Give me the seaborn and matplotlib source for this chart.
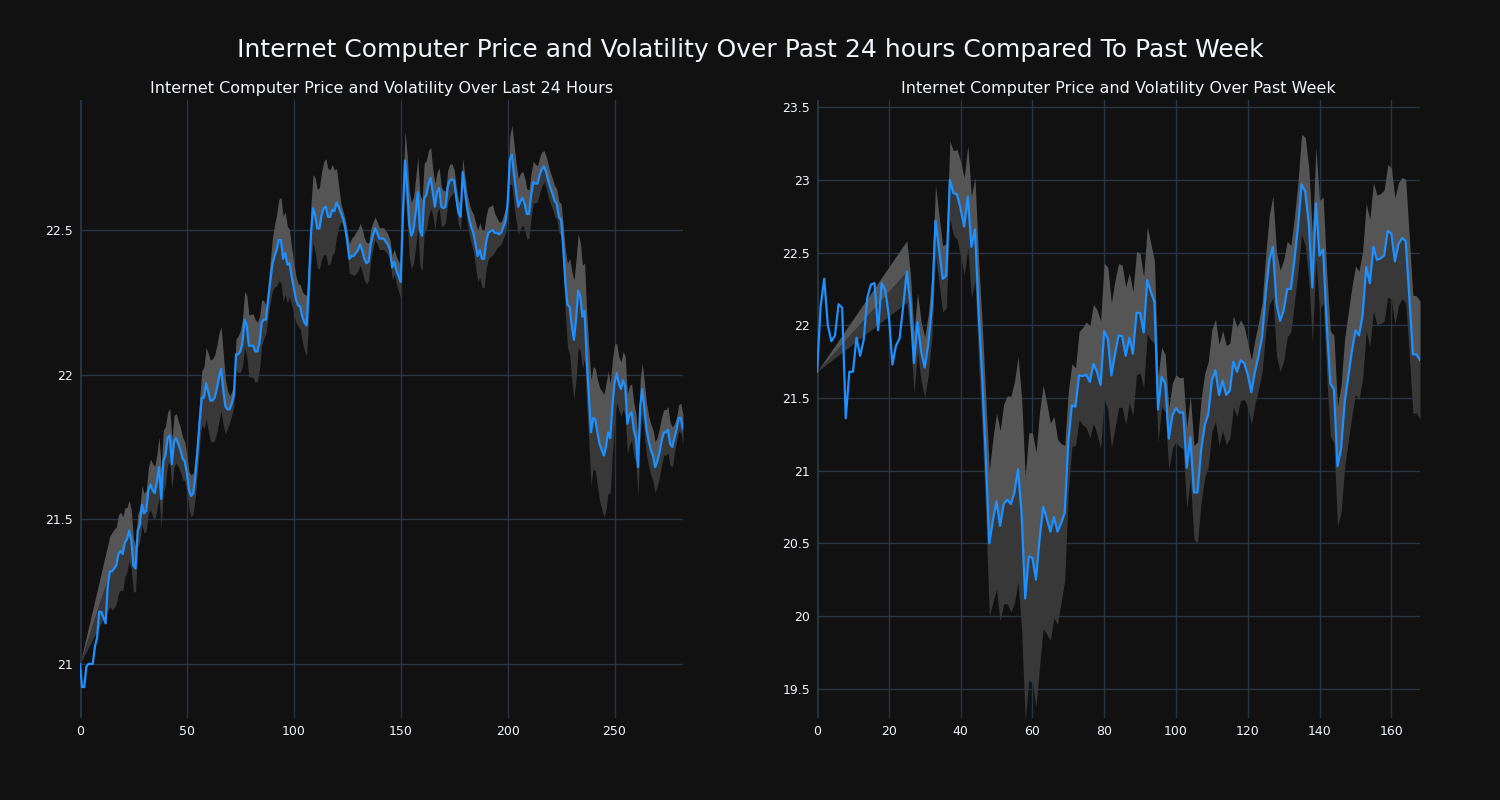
import numpy as np
import pandas as pd
import seaborn as sns
import matplotlib.pyplot as plt

# price over last 24 hours (5 min steps)
day_price = [
    21.00, 20.92, 20.92, 20.99, 21.00, 21.00, 21.00, 21.06, 21.09, 21.18,
    21.18, 21.16, 21.14, 21.27, 21.32, 21.32, 21.33, 21.34, 21.38, 21.39,
    21.38, 21.42, 21.43, 21.46, 21.43, 21.34, 21.33, 21.46, 21.48, 21.55,
    21.52, 21.53, 21.60, 21.62, 21.60, 21.59, 21.63, 21.68, 21.57, 21.70,
    21.72, 21.78, 21.79, 21.69, 21.77, 21.78, 21.76, 21.74, 21.71, 21.70,
    21.66, 21.60, 21.58, 21.59, 21.65, 21.74, 21.84, 21.92, 21.92, 21.97,
    21.94, 21.91, 21.91, 21.92, 21.95, 21.99, 22.02, 21.95, 21.89, 21.88,
    21.88, 21.90, 21.93, 22.07, 22.07, 22.08, 22.11, 22.19, 22.17, 22.10,
    22.10, 22.10, 22.08, 22.08, 22.11, 22.18, 22.19, 22.19, 22.26, 22.32,
    22.38, 22.41, 22.43, 22.465, 22.465, 22.40, 22.42, 22.38, 22.385, 22.34,
    22.30, 22.26, 22.24, 22.235, 22.20, 22.18, 22.17, 22.30, 22.48, 22.575,
    22.55, 22.505, 22.505, 22.55, 22.575, 22.58, 22.545, 22.545, 22.57, 22.565,
    22.595, 22.58, 22.56, 22.54, 22.51, 22.46, 22.40, 22.41, 22.41, 22.42,
    22.43, 22.45, 22.43, 22.40, 22.385, 22.39, 22.45, 22.48, 22.505, 22.49,
    22.47, 22.47, 22.47, 22.46, 22.45, 22.43, 22.37, 22.39, 22.36, 22.34,
    22.32, 22.55, 22.74, 22.65, 22.52, 22.48, 22.50, 22.56, 22.63, 22.50,
    22.48, 22.61, 22.62, 22.66, 22.68, 22.63, 22.58, 22.63, 22.645, 22.58,
    22.575, 22.58, 22.65, 22.67, 22.675, 22.67, 22.61, 22.56, 22.545, 22.70,
    22.64, 22.58, 22.54, 22.51, 22.49, 22.45, 22.41, 22.43, 22.40, 22.40,
    22.46, 22.49, 22.495, 22.50, 22.49, 22.49, 22.485, 22.49, 22.51, 22.53,
    22.59, 22.74, 22.76, 22.69, 22.63, 22.58, 22.60, 22.61, 22.59, 22.555,
    22.555, 22.62, 22.665, 22.66, 22.66, 22.69, 22.71, 22.72, 22.70, 22.67,
    22.645, 22.625, 22.60, 22.59, 22.545, 22.535, 22.44, 22.32, 22.24, 22.235,
    22.17, 22.12, 22.19, 22.29, 22.27, 22.20, 22.22, 22.05, 21.93, 21.80,
    21.85, 21.845, 21.80, 21.76, 21.74, 21.72, 21.75, 21.80, 21.78, 21.89,
    21.97, 22.005, 21.97, 21.95, 21.98, 21.96, 21.83, 21.86, 21.87, 21.81,
    21.78, 21.68, 21.89, 21.95, 21.88, 21.81, 21.77, 21.74, 21.72, 21.68,
    21.70, 21.73, 21.77, 21.80, 21.80, 21.81, 21.76, 21.75, 21.78, 21.81,
    21.85, 21.85, 21.81,
]

# price over past week (hourly)
week_price = [
    21.68, 22.13, 22.32, 22.00, 21.89, 21.93, 22.145, 22.12, 21.36, 21.68,
    21.68, 21.915, 21.79, 21.90, 22.19, 22.28, 22.29, 21.965, 22.29, 22.24,
    22.07, 21.73, 21.86, 21.91, 22.13, 22.37, 22.15, 21.74, 22.02, 21.82,
    21.71, 21.87, 22.13, 22.72, 22.52, 22.32, 22.34, 23.00, 22.91, 22.90,
    22.80, 22.68, 22.885, 22.54, 22.66, 22.10, 21.65, 21.10, 20.50, 20.66,
    20.79, 20.62, 20.77, 20.80, 20.77, 20.85, 21.01, 20.70, 20.12, 20.41,
    20.40, 20.25, 20.53, 20.75, 20.67, 20.58, 20.68, 20.58, 20.64, 20.71,
    21.20, 21.45, 21.44, 21.655, 21.65, 21.66, 21.61, 21.735, 21.68, 21.59,
    21.96, 21.91, 21.655, 21.80, 21.93, 21.925, 21.79, 21.915, 21.805, 22.085,
    22.085, 21.95, 22.31, 22.23, 22.16, 21.42, 21.645, 21.60, 21.22, 21.38,
    21.43, 21.40, 21.40, 21.02, 21.23, 20.85, 20.85, 21.14, 21.31, 21.39,
    21.62, 21.69, 21.52, 21.62, 21.52, 21.55, 21.75, 21.68, 21.76, 21.74,
    21.66, 21.54, 21.68, 21.79, 21.92, 22.22, 22.45, 22.54, 22.15, 22.03,
    22.10, 22.25, 22.25, 22.45, 22.68, 22.97, 22.92, 22.70, 22.26, 22.84,
    22.48, 22.52, 22.01, 21.60, 21.56, 21.03, 21.15, 21.47, 21.645, 21.82,
    21.965, 21.93, 22.07, 22.40, 22.29, 22.54, 22.45, 22.46, 22.48, 22.65,
    22.63, 22.44, 22.56, 22.60, 22.58, 22.20, 21.80, 21.80, 21.76,
]

day_xticks = [0, 50, 100, 150, 200, 250]
day_yticks = [21, 21.5, 22, 22.5]
day_ylabels = ["21", "21.5", "22", "22.5"]
week_xticks = [0, 20, 40, 60, 80, 100, 120, 140, 160]
week_yticks = [19.5, 20, 20.5, 21, 21.5, 22, 22.5, 23, 23.5]
week_ylabels = ["19.5", "20", "20.5", "21", "21.5", "22", "22.5", "23", "23.5"]

BG = "#111111"
GRID = "#283442"
TXT = "#f2f5fa"

sns.set_theme(style="darkgrid", rc={
    "figure.facecolor": BG,
    "axes.facecolor": BG,
    "grid.color": GRID,
    "axes.edgecolor": BG,
    "text.color": TXT,
    "xtick.color": TXT,
    "ytick.color": TXT,
})
plt.rcParams["font.family"] = ["DejaVu Sans"]


def volatility_frame(price, window, k=1.0):
    s = pd.Series(price, dtype=float)
    std = s.rolling(window).std()
    std.iloc[0] = 0.0  # band starts from the first price
    d = pd.DataFrame({"x": s.index, "price": s, "std": std}).dropna()
    d["upper"] = d["price"] + k * d["std"]
    d["lower"] = d["price"] - k * d["std"]
    return d


def draw(ax, price, window, k, xticks, yticks, ylabels, ylim, title):
    band = volatility_frame(price, window, k)
    ax.fill_between(band["x"], band["price"], band["upper"], color="#555555", lw=0)
    ax.fill_between(band["x"], band["lower"], band["price"], color="#383838", lw=0)
    df = pd.DataFrame({"x": range(len(price)), "price": price})
    sns.lineplot(data=df, x="x", y="price", ax=ax, color="#1e90ff", lw=1.6)
    ax.axvline(0, color=GRID, lw=2, zorder=0.5)
    ax.set_xlim(0, len(price) - 1)
    ax.set_ylim(*ylim)
    ax.set_xticks(xticks)
    ax.set_yticks(yticks, labels=ylabels)
    ax.set_xlabel("")
    ax.set_ylabel("")
    ax.grid(True, color=GRID, lw=1)
    ax.tick_params(length=0, labelsize=9, pad=5)
    for sp in ax.spines.values():
        sp.set_visible(False)
    ax.set_title(title, fontsize=11.5, color=TXT, pad=5)


fig = plt.figure(figsize=(15, 8), dpi=100)
ax1 = fig.add_axes([0.0533, 0.1025, 0.402, 0.7725])
ax2 = fig.add_axes([0.5447, 0.1025, 0.402, 0.7725])

draw(ax1, day_price, 15, 1.0, day_xticks, day_yticks, day_ylabels, (20.813, 22.949),
     "Internet Computer Price and Volatility Over Last 24 Hours")
draw(ax2, week_price, 26, 0.85, week_xticks, week_yticks, week_ylabels, (19.298, 23.55),
     "Internet Computer Price and Volatility Over Past Week")

fig.suptitle("Internet Computer Price and Volatility Over Past 24 hours Compared To Past Week",
             fontsize=18, color=TXT, y=0.9375, va="center")

fig.savefig("out.png", dpi=100, facecolor=BG)
